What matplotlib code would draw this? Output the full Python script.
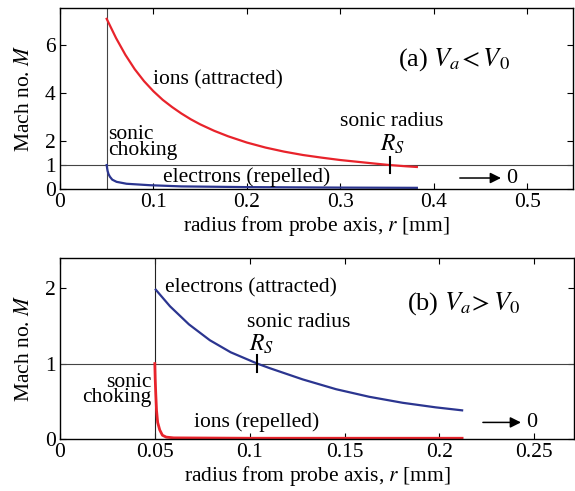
import matplotlib
matplotlib.use("Agg")
import matplotlib.pyplot as plt

plt.rcParams['font.family'] = 'Liberation Serif'
plt.rcParams['mathtext.fontset'] = 'stix'
plt.rcParams['font.size'] = 15.5

# --- data ---
# (a) Va < V0 : ions attracted, electrons repelled
r_ions_a = [0.05, 0.06, 0.07, 0.08, 0.09, 0.10, 0.11, 0.12, 0.13, 0.14, 0.15, 0.165, 0.18,
            0.20, 0.22, 0.24, 0.26, 0.28, 0.30, 0.32, 0.34, 0.353, 0.37, 0.382]
M_ions_a = [7.1, 6.3, 5.6, 5.0, 4.5, 4.08, 3.72, 3.42, 3.15, 2.91, 2.7, 2.43, 2.2,
            1.94, 1.73, 1.56, 1.42, 1.31, 1.21, 1.13, 1.05, 1.0, 0.95, 0.92]
r_elec_a = [0.05, 0.0505, 0.051, 0.052, 0.0535, 0.056, 0.0606, 0.0713, 0.096, 0.13, 0.2, 0.3, 0.382]
M_elec_a = [1.0, 0.86, 0.75, 0.62, 0.51, 0.39, 0.30, 0.22, 0.16, 0.11, 0.08, 0.06, 0.05]
rs_a = 0.353

# (b) Va > V0 : electrons attracted, ions repelled
r_elec_b = [0.0505, 0.058, 0.068, 0.079, 0.09, 0.104, 0.1105, 0.128, 0.1456, 0.163, 0.1807, 0.198, 0.212]
M_elec_b = [1.98, 1.76, 1.52, 1.31, 1.15, 1.0, 0.94, 0.79, 0.66, 0.56, 0.48, 0.42, 0.38]
r_ions_b = [0.05, 0.0502, 0.0505, 0.0509, 0.0515, 0.0526, 0.054, 0.056, 0.06, 0.1, 0.212]
M_ions_b = [1.0, 0.8, 0.6, 0.38, 0.22, 0.12, 0.05, 0.025, 0.015, 0.01, 0.01]
rs_b = 0.104

r_probe = 0.05

red = '#e8232b'
blue = '#2b3590'

fig = plt.figure(figsize=(5.75, 4.91), dpi=100)
ax1 = fig.add_axes([0.1043, 0.615, 0.892, 0.3686])
ax2 = fig.add_axes([0.1043, 0.1059, 0.8940, 0.3686])

def style(ax):
    ax.tick_params(direction='in', top=True, right=True, length=4, width=0.8, pad=3)
    for s in ax.spines.values():
        s.set_linewidth(1.0)
    ax.set_ylabel("Mach no. $M$", fontsize=15.5, labelpad=8)
    ax.set_xlabel("radius from probe axis, $r$ [mm]", fontsize=15.5, labelpad=1)

# --- panel (a) ---
ax1.axvline(r_probe, color='#444444', lw=0.8)
ax1.axhline(1, color='#444444', lw=0.8)
ax1.plot(r_ions_a, M_ions_a, color=red, lw=1.6)
ax1.plot(r_elec_a, M_elec_a, color=blue, lw=1.6)
ax1.plot([rs_a, rs_a], [0.65, 1.35], color='k', lw=1.5)
ax1.set_xlim(0, 0.549)
ax1.set_ylim(0, 7.55)
ax1.set_xticks([0, 0.1, 0.2, 0.3, 0.4, 0.5])
ax1.set_xticklabels(["0", "0.1", "0.2", "0.3", "0.4", "0.5"])
ax1.set_yticks([0, 1, 2, 4, 6])
style(ax1)

ax1.text(0.0995, 4.55, "ions (attracted)", ha='left', va='center')
ax1.text(0.0513, 1.95, "sonic\nchoking", ha='left', va='center', linespacing=0.75)
ax1.text(0.110, 0.5, "electrons (repelled)", ha='left', va='center')
ax1.text(0.30, 2.8, "sonic radius", ha='left', va='center')
ax1.text(0.343, 1.85, "$R_S$", ha='left', va='center', fontsize=17)
ax1.text(0.362, 5.4, "(a) $V_a\\!<V_{\\rm 0}$", ha='left', va='center', fontsize=19)
ax1.annotate('', xy=(0.475, 0.46), xytext=(0.425, 0.46),
             arrowprops=dict(arrowstyle='-|>', color='k', lw=1.1, mutation_scale=16))
ax1.text(0.478, 0.46, "0", ha='left', va='center', fontsize=16)

# --- panel (b) ---
ax2.axvline(r_probe, color='#222222', lw=0.8)
ax2.axhline(1, color='#444444', lw=0.8)
ax2.plot(r_elec_b, M_elec_b, color=blue, lw=1.6)
ax2.plot(r_ions_b, M_ions_b, color=red, lw=2.0)
ax2.plot([rs_b, rs_b], [0.89, 1.11], color='k', lw=1.5)
ax2.set_xlim(0, 0.271)
ax2.set_ylim(0, 2.4)
ax2.set_xticks([0, 0.05, 0.1, 0.15, 0.2, 0.25])
ax2.set_xticklabels(["0", "0.05", "0.1", "0.15", "0.2", "0.25"])
ax2.set_yticks([0, 1, 2])
style(ax2)

ax2.text(0.0553, 2.0, "electrons (attracted)", ha='left', va='center')
ax2.text(0.0984, 1.55, "sonic radius", ha='left', va='center')
ax2.text(0.0995, 1.26, "$R_S$", ha='left', va='center', fontsize=17)
ax2.text(0.0484, 0.65, "sonic\nchoking", ha='right', va='center', multialignment='right', linespacing=0.75)
ax2.text(0.0705, 0.22, "ions (repelled)", ha='left', va='center')
ax2.text(0.183, 1.8, "(b) $V_a\\!>V_{\\rm 0}$", ha='left', va='center', fontsize=19)
ax2.annotate('', xy=(0.2445, 0.22), xytext=(0.2215, 0.22),
             arrowprops=dict(arrowstyle='-|>', color='k', lw=1.1, mutation_scale=16))
ax2.text(0.2455, 0.22, "0", ha='left', va='center', fontsize=16)

fig.savefig("out.png", dpi=100)
